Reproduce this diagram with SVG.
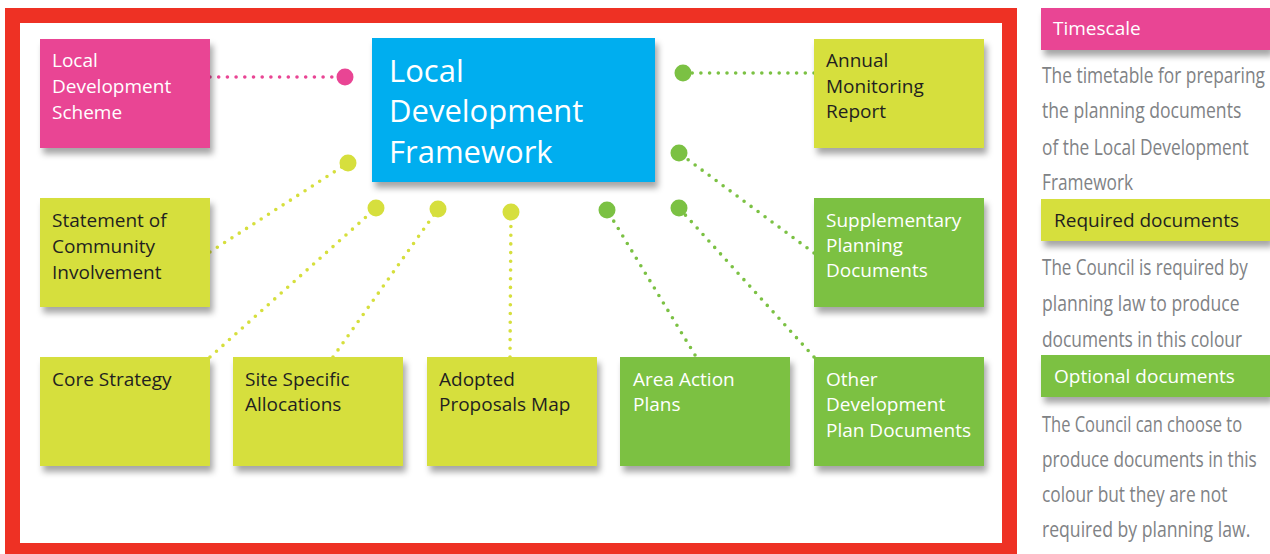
<svg xmlns="http://www.w3.org/2000/svg" width="1270" height="554" viewBox="0 0 1270 554">
<defs>
<filter id="sh" x="-10%" y="-10%" width="130%" height="140%">
<feDropShadow dx="3" dy="6" stdDeviation="3" flood-color="#000" flood-opacity="0.35"/>
</filter>
</defs>
<style>
.t{font-family:"Open Sans","Liberation Sans",sans-serif;font-size:19px}
.big{font-family:"Open Sans","Liberation Sans",sans-serif;font-size:31px;fill:#fff}
.w{fill:#fff}.k{fill:#231f20}
.pink{fill:#e94594}.blue{fill:#00aeef}.yel{fill:#d6df3d}.grn{fill:#7bc143}
.g{font-family:"Open Sans","Liberation Sans",sans-serif;font-size:21px;fill:#808285}
.dl{fill:none;stroke-width:3.6;stroke-linecap:round;stroke-dasharray:0 8.7}
.py{stroke:#d6df3d}.pg{stroke:#7bc143}.pp{stroke:#e94594}
</style>
<rect width="1270" height="554" fill="#fff"/>
<rect id="frame" x="12.5" y="15.5" width="997" height="535" fill="#fff" stroke="#ee3124" stroke-width="15"/>

<g id="connectors">
<line class="dl pp" x1="210" y1="77" x2="345" y2="77"/>
<circle cx="345" cy="77" r="8.5" class="pink"/>
<line class="dl py" x1="210" y1="252" x2="348" y2="163"/>
<circle cx="348" cy="163" r="8.5" class="yel"/>
<line class="dl py" x1="210" y1="357" x2="376" y2="208"/>
<circle cx="376" cy="208" r="8.5" class="yel"/>
<line class="dl py" x1="333" y1="357" x2="438" y2="209"/>
<circle cx="438" cy="209" r="8.5" class="yel"/>
<line class="dl py" x1="510" y1="357" x2="511" y2="212"/>
<circle cx="511" cy="212" r="8.5" class="yel"/>
<line class="dl pg" x1="695" y1="355" x2="607" y2="210"/>
<circle cx="607" cy="210" r="8.5" class="grn"/>
<line class="dl pg" x1="814" y1="357" x2="679" y2="208"/>
<circle cx="679" cy="208" r="8.5" class="grn"/>
<line class="dl pg" x1="814" y1="253" x2="679" y2="153"/>
<circle cx="679" cy="153" r="8.5" class="grn"/>
<line class="dl pg" x1="814" y1="73" x2="683" y2="73"/>
<circle cx="683" cy="73" r="8.5" class="grn"/>
</g>

<g id="lds">
<rect x="40" y="39" width="170" height="109" class="pink" filter="url(#sh)"/>
<text class="t w"><tspan x="52" y="67">Local</tspan><tspan x="52" y="93">Development</tspan><tspan x="52" y="119">Scheme</tspan></text>
</g>
<g id="ldf">
<rect x="372" y="38" width="283" height="144" class="blue" filter="url(#sh)"/>
<text class="big"><tspan x="389" y="82">Local</tspan><tspan x="389" y="122">Development</tspan><tspan x="389" y="163">Framework</tspan></text>
</g>
<g id="amr">
<rect x="814" y="39" width="170" height="109" class="yel" filter="url(#sh)"/>
<text class="t k"><tspan x="826" y="67">Annual</tspan><tspan x="826" y="93">Monitoring</tspan><tspan x="826" y="118">Report</tspan></text>
</g>
<g id="sci">
<rect x="40" y="198" width="170" height="109" class="yel" filter="url(#sh)"/>
<text class="t k"><tspan x="52" y="227">Statement of</tspan><tspan x="52" y="253">Community</tspan><tspan x="52" y="279">Involvement</tspan></text>
</g>
<g id="spd">
<rect x="814" y="198" width="170" height="109" class="grn" filter="url(#sh)"/>
<text class="t w"><tspan x="826" y="227">Supplementary</tspan><tspan x="826" y="252">Planning</tspan><tspan x="826" y="277">Documents</tspan></text>
</g>
<g id="cs">
<rect x="40" y="357" width="170" height="109" class="yel" filter="url(#sh)"/>
<text class="t k" x="52" y="386">Core Strategy</text>
</g>
<g id="ssa">
<rect x="233" y="357" width="170" height="109" class="yel" filter="url(#sh)"/>
<text class="t k"><tspan x="245" y="386">Site Specific</tspan><tspan x="245" y="411">Allocations</tspan></text>
</g>
<g id="apm">
<rect x="427" y="357" width="170" height="109" class="yel" filter="url(#sh)"/>
<text class="t k"><tspan x="439" y="386">Adopted</tspan><tspan x="439" y="411">Proposals Map</tspan></text>
</g>
<g id="aap">
<rect x="620" y="357" width="170" height="109" class="grn" filter="url(#sh)"/>
<text class="t w"><tspan x="633" y="386">Area Action</tspan><tspan x="633" y="411">Plans</tspan></text>
</g>
<g id="odpd">
<rect x="814" y="357" width="170" height="109" class="grn" filter="url(#sh)"/>
<text class="t w"><tspan x="826" y="386">Other</tspan><tspan x="826" y="411">Development</tspan><tspan x="826" y="437">Plan Documents</tspan></text>
</g>

<g id="legend">
<rect x="1041" y="8" width="229" height="42" class="pink" filter="url(#sh)"/>
<text class="t w" x="1053" y="35">Timescale</text>
<text class="g" transform="translate(1042 83) scale(0.82 1)" textLength="272" lengthAdjust="spacingAndGlyphs">The timetable for preparing</text>
<text class="g" transform="translate(1042 118) scale(0.82 1)" textLength="243" lengthAdjust="spacingAndGlyphs">the planning documents</text>
<text class="g" transform="translate(1042 155) scale(0.82 1)" textLength="252" lengthAdjust="spacingAndGlyphs">of the Local Development</text>
<text class="g" transform="translate(1042 190) scale(0.82 1)" textLength="111" lengthAdjust="spacingAndGlyphs">Framework</text>
<rect x="1041" y="199" width="229" height="42" class="yel" filter="url(#sh)"/>
<text class="t k" x="1054" y="227">Required documents</text>
<text class="g" transform="translate(1042 275) scale(0.82 1)" textLength="251" lengthAdjust="spacingAndGlyphs">The Council is required by</text>
<text class="g" transform="translate(1042 311) scale(0.82 1)" textLength="241" lengthAdjust="spacingAndGlyphs">planning law to produce</text>
<text class="g" transform="translate(1042 347) scale(0.82 1)" textLength="244" lengthAdjust="spacingAndGlyphs">documents in this colour</text>
<rect x="1041" y="355" width="229" height="42" class="grn" filter="url(#sh)"/>
<text class="t w" x="1054" y="383">Optional documents</text>
<text class="g" transform="translate(1042 432) scale(0.82 1)" textLength="244" lengthAdjust="spacingAndGlyphs">The Council can choose to</text>
<text class="g" transform="translate(1042 467) scale(0.82 1)" textLength="262" lengthAdjust="spacingAndGlyphs">produce documents in this</text>
<text class="g" transform="translate(1042 502) scale(0.82 1)" textLength="226" lengthAdjust="spacingAndGlyphs">colour but they are not</text>
<text class="g" transform="translate(1042 537) scale(0.82 1)" textLength="254" lengthAdjust="spacingAndGlyphs">required by planning law.</text>
</g>
</svg>
